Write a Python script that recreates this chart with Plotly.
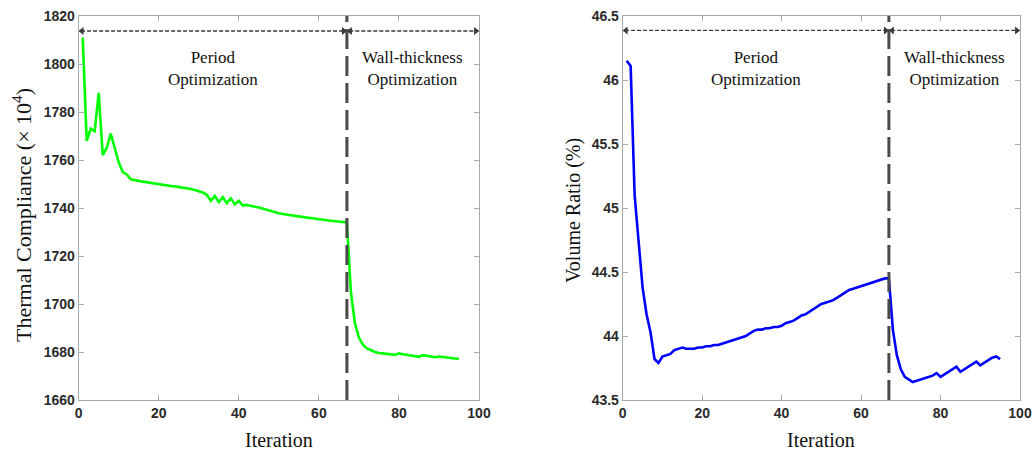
import plotly.graph_objects as go

# ---------------- data ----------------
iterations = list(range(1, 96))

thermal_compliance = [
    1811, 1768, 1773, 1772, 1788, 1762, 1765, 1771, 1765, 1759, 1755, 1754,
    1752, 1751.5, 1751.3, 1751, 1750.7, 1750.4, 1750.1, 1749.8, 1749.6, 1749.4,
    1749.2, 1749, 1748.8, 1748.5, 1748.2, 1747.9, 1747.5, 1747, 1746.5, 1745.5,
    1743, 1745, 1742.5, 1744.5, 1742, 1744, 1741.5, 1743, 1741,
    1741.3, 1740.8, 1740.5, 1740.2, 1739.7, 1739.2, 1738.5, 1738, 1737.8, 1737.5,
    1737.2, 1737, 1736.8, 1736.6, 1736.3, 1736, 1735.8, 1735.5, 1735.3, 1735.1,
    1734.9, 1734.7, 1734.5, 1734.3, 1734.1, 1734,
    1705, 1692, 1686, 1683, 1681.5, 1680.7, 1680, 1679.6, 1679.3, 1679.1, 1679,
    1678.8, 1679.4, 1679.1, 1678.9, 1678.6, 1678.3, 1678.0, 1678.7, 1678.4, 1678.1,
    1677.8, 1678.1, 1677.8, 1677.6, 1677.5, 1677.3, 1677.2,
]

volume_ratio = [
    46.15, 46.11, 45.1, 44.75, 44.38, 44.17, 44.03, 43.82, 43.79, 43.84, 43.85,
    43.86, 43.89, 43.9,
    43.91, 43.9, 43.9, 43.9, 43.91, 43.91, 43.92, 43.92, 43.93, 43.93, 43.94,
    43.95, 43.96, 43.97, 43.98, 43.99, 44.0,
    44.02, 44.04, 44.05, 44.05, 44.06, 44.06, 44.07, 44.07, 44.08, 44.1, 44.11,
    44.12, 44.14, 44.16, 44.17, 44.19, 44.21, 44.23, 44.25, 44.26, 44.27, 44.28,
    44.3, 44.32, 44.34, 44.36, 44.37, 44.38, 44.39, 44.4, 44.41, 44.42, 44.43,
    44.44, 44.45, 44.45,
    44.05, 43.85, 43.74, 43.68, 43.66, 43.64, 43.65, 43.66, 43.67, 43.68, 43.69,
    43.71, 43.68, 43.7, 43.72, 43.74, 43.76, 43.72, 43.74, 43.76, 43.78, 43.8,
    43.77, 43.79, 43.81, 43.83, 43.84, 43.82,
]

x_ticks = [0, 20, 40, 60, 80, 100]
tc_ticks = [1660, 1680, 1700, 1720, 1740, 1760, 1780, 1800, 1820]
vr_ticks = [43.5, 44, 44.5, 45, 45.5, 46, 46.5]
vr_tick_labels = ["43.5", "44", "44.5", "45", "45.5", "46", "46.5"]

switch_iter = 67
x_max = 100
phase_labels = ["Period<br>Optimization", "Wall-thickness<br>Optimization"]
x_title = "Iteration"
y_titles = ["Thermal Compliance (× 10<sup>4</sup>)", "Volume Ratio (%)"]

assert len(thermal_compliance) == len(iterations)
assert len(volume_ratio) == len(iterations)

# ---------------- figure ----------------
W, H = 1034, 452
left_dom = [78.7 / W, 479.0 / W]
right_dom = [622.7 / W, 1020.0 / W]
y_dom = [1 - 400.0 / H, 1 - 16.0 / H]

serif = "Liberation Serif"
sans = "Liberation Sans"
tick_font = dict(family=sans, size=14, color="#2a2a2a", weight="bold")
axis_line = "#a8a8a8"
ink = "#3a3a3a"

fig = go.Figure()
fig.add_trace(go.Scatter(x=iterations, y=thermal_compliance, mode="lines",
                         line=dict(color="#00ff00", width=2.6),
                         xaxis="x", yaxis="y", showlegend=False))
fig.add_trace(go.Scatter(x=iterations, y=volume_ratio, mode="lines",
                         line=dict(color="#0000ff", width=2.6),
                         xaxis="x2", yaxis="y2", showlegend=False))

common_axis = dict(showline=True, linecolor=axis_line, linewidth=1, mirror="allticks",
                   ticks="inside", ticklen=5, tickcolor=axis_line, showgrid=False,
                   zeroline=False, tickfont=tick_font, automargin=False)

fig.update_layout(
    width=W, height=H,
    margin=dict(l=0, r=0, t=0, b=0),
    paper_bgcolor="white", plot_bgcolor="white",
    xaxis=dict(domain=left_dom, range=[0, x_max], tickvals=x_ticks, anchor="y",
               **common_axis),
    yaxis=dict(domain=y_dom, range=[1660, 1820], tickvals=tc_ticks, anchor="x",
               **common_axis),
    xaxis2=dict(domain=right_dom, range=[0, x_max], tickvals=x_ticks, anchor="y2",
                **common_axis),
    yaxis2=dict(domain=y_dom, range=[43.5, 46.5], tickvals=vr_ticks, ticktext=vr_tick_labels,
                anchor="x2", **common_axis),
)

# axis titles (placed as annotations for exact positioning)
for dom in (left_dom, right_dom):
    fig.add_annotation(xref="paper", yref="paper", x=(dom[0] + dom[1]) / 2, y=0,
                       text=x_title, showarrow=False, xanchor="center", yanchor="bottom",
                       borderpad=0, font=dict(family=serif, size=20, color="#111"))
fig.add_annotation(xref="paper", yref="paper", x=22.0 / W, y=1 - 215.0 / H, text=y_titles[0],
                   textangle=-90, showarrow=False, xanchor="center", yanchor="middle",
                   font=dict(family=serif, size=22, color="#111"))
fig.add_annotation(xref="paper", yref="paper", x=573.0 / W, y=1 - 211.0 / H, text=y_titles[1],
                   textangle=-90, showarrow=False, xanchor="center", yanchor="middle",
                   font=dict(family=serif, size=20, color="#111"))

panels = [("x", "y", 1813.75, 1798.3), ("x2", "y2", 46.387, 46.09)]
for xr, yr, arrow_y, label_y in panels:
    # vertical separator
    fig.add_shape(type="line", xref=xr, yref=f"{yr} domain", x0=switch_iter, x1=switch_iter,
                  y0=0, y1=1, line=dict(color="#4a4a4a", width=3, dash="20px,7px"))
    spans = [(0, switch_iter), (switch_iter, x_max)]
    for a, b in spans:
        fig.add_shape(type="line", xref=xr, yref=yr, x0=a + 0.6, x1=b - 0.6,
                      y0=arrow_y, y1=arrow_y,
                      line=dict(color=ink, width=1.3, dash="4px,2px"))
    # arrow heads at both ends of each span
    head_x = [a + 0.8 for a, _ in spans] + [b - 0.8 for _, b in spans]
    head_sym = ["triangle-left"] * len(spans) + ["triangle-right"] * len(spans)
    fig.add_trace(go.Scatter(x=head_x, y=[arrow_y] * len(head_x), mode="markers",
                             marker=dict(symbol=head_sym, size=7, color=ink),
                             xaxis=xr, yaxis=yr, showlegend=False, hoverinfo="skip",
                             cliponaxis=False))
    # phase labels
    for (a, b), txt in zip(spans, phase_labels):
        fig.add_annotation(xref=xr, yref=yr, x=(a + b) / 2, y=label_y, text=txt,
                           showarrow=False, font=dict(family=serif, size=17, color="#111"),
                           align="center")

fig.write_html("out.html")
